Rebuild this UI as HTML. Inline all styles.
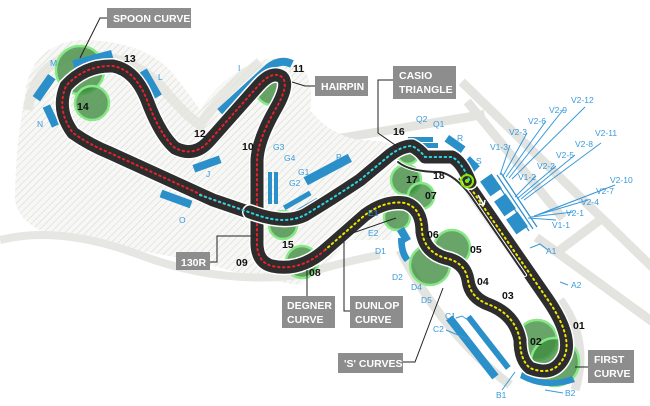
<!DOCTYPE html>
<html><head><meta charset="utf-8"><style>
html,body{margin:0;padding:0;background:#fff;width:650px;height:406px;overflow:hidden}
svg{display:block}
.lb{font-family:"Liberation Sans",sans-serif;font-weight:bold;font-size:10.5px;fill:#fff}
.n{font-family:"Liberation Sans",sans-serif;font-weight:bold;font-size:10.5px;fill:#111}
.b{font-family:"Liberation Sans",sans-serif;font-size:8.5px;fill:#3a9ad9}
.bl{stroke:#3a9ad9;stroke-width:1;fill:none}
</style></head><body>
<svg width="650" height="406" viewBox="0 0 650 406">
<defs>
<pattern id="h" width="5" height="5" patternUnits="userSpaceOnUse" patternTransform="rotate(45)">
<rect width="5" height="5" fill="#f7f7f5"/><line x1="0" y1="0" x2="0" y2="5" stroke="#d4d4d0" stroke-width="1"/></pattern>
</defs>
<!-- roads -->
<g stroke="#e3e3df" stroke-width="9" fill="none" stroke-linecap="square">
<path d="M465,85 L650,265"/><path d="M330,140 L480,115"/><path d="M540,240 L650,320"/>
<path d="M470,105 L560,215"/><path d="M560,250 L600,220"/>
</g>
<!-- hatched terrain -->
<path d="M25,95 Q30,45 80,40 Q140,40 170,70 Q190,95 200,110 Q215,85 240,70 Q270,50 300,65 Q315,80 310,110 Q330,135 360,140 Q390,140 405,150 L420,200 Q400,215 390,240 Q370,240 350,240 Q330,265 300,285 Q260,280 200,262 Q140,250 70,240 Q20,230 15,200 Q15,150 25,95 Z" fill="url(#h)"/>
<path d="M28,110 Q35,60 80,55 Q130,55 160,85 Q185,115 200,125 Q220,95 260,62" stroke="#e3e3df" stroke-width="10" fill="none" opacity=".8"/>
<path d="M0,240 Q60,225 140,255 Q220,285 300,275 Q350,260 380,255" stroke="#e6e6e2" stroke-width="8" fill="none"/>
<path d="M400,250 Q440,330 510,385" stroke="#e3e3df" stroke-width="9" fill="none"/>
<path d="M560,300 Q590,340 575,390" stroke="#e3e3df" stroke-width="9" fill="none"/>
<!-- green blobs -->
<g fill="#3f8c3f" fill-opacity=".78" stroke="#86e886" stroke-width="2.5">
<circle cx="80" cy="70" r="24"/><circle cx="92" cy="103" r="17"/><circle cx="272" cy="88" r="17"/>
<circle cx="283" cy="225" r="14"/><circle cx="302" cy="262" r="16"/><circle cx="406" cy="180" r="15"/>
<circle cx="421" cy="196" r="13"/><circle cx="397" cy="217" r="13"/><circle cx="452" cy="248" r="18"/>
<circle cx="430" cy="265" r="20"/><circle cx="408" cy="153" r="11"/><circle cx="537" cy="340" r="20"/>
<circle cx="555" cy="362" r="24"/>
</g>
<!-- stands -->
<g fill="#2b8fc9">
<rect x="40" y="74" width="9" height="27" transform="rotate(35 44 87)"/>
<rect x="73" y="55" width="40" height="9" transform="rotate(-15 93 60)"/>
<rect x="47" y="105" width="8" height="22" transform="rotate(-25 51 116)"/>
<rect x="145" y="69" width="10" height="30" transform="rotate(-30 150 84)"/>
<rect x="193" y="160" width="28" height="8" transform="rotate(-20 207 164)"/>
<rect x="160" y="195" width="32" height="8" transform="rotate(20 176 199)"/>
<rect x="303" y="165" width="50" height="9" transform="rotate(-28 328 170)"/>
<rect x="268" y="172" width="4" height="32"/><rect x="274" y="172" width="4" height="32"/>
<rect x="282" y="198" width="30" height="5" transform="rotate(-30 297 200)"/>
<rect x="290" y="205" width="30" height="5" transform="rotate(-30 305 207)"/>
<rect x="408" y="137" width="25" height="5"/><rect x="416" y="143" width="22" height="5"/>
<rect x="445" y="140" width="20" height="8" transform="rotate(35 455 144)"/>
<rect x="465" y="160" width="14" height="9" transform="rotate(45 472 164)"/>
<rect x="400" y="228" width="8" height="14" transform="rotate(-30 404 235)"/>
<path d="M398,238 Q398,255 405,262 L410,258 Q404,250 405,238 Z"/>
<rect x="482" y="178" width="18" height="14" transform="rotate(55 491 185)"/>
<rect x="496" y="198" width="18" height="14" transform="rotate(55 505 205)"/>
<rect x="508" y="216" width="18" height="14" transform="rotate(55 517 223)"/>
<rect x="528" y="250" width="6" height="55" transform="rotate(-33 531 277)"/>
<rect x="468" y="310" width="8" height="75" transform="rotate(-38 472 347)"/>
<rect x="485" y="310" width="6" height="65" transform="rotate(-38 488 342)"/>
<path d="M520,378 Q545,392 575,382 L572,376 Q545,386 522,372 Z"/>
</g>
<path d="M220,112 L268,68 Q280,58 292,64" stroke="#2b8fc9" stroke-width="8" fill="none"/>
<g stroke="#2b8fc9" stroke-width="1.2">
<path d="M493,177 l12,18 M497,175 l12,18 M501,173 l12,18 M505,195 l12,18 M509,193 l12,18 M513,191 l12,18 M517,213 l12,18 M521,211 l12,18 M525,209 l12,18"/>
</g>
<!-- track -->
<g fill="none" stroke-linejoin="round" stroke-linecap="round">
<path d="M465,180 L548,300 Q572,335 565,355 Q555,378 530,368 Q520,360 520,340 Q515,315 490,305 Q470,298 468,280 Q465,262 445,258 Q425,252 422,232 Q422,208 405,203 Q385,200 365,215 L325,250" stroke="#fff" stroke-width="16"/>
<path d="M325,250 Q300,272 272,266 Q256,262 257,240 L257,160 Q258,140 275,110 Q290,85 282,77 Q272,70 258,86 L210,140 Q195,158 175,148 Q160,135 147,100 Q135,70 113,66 Q85,65 66,86 Q56,110 73,133 Q90,145 110,153 L213,200 L257,215" stroke="#fff" stroke-width="16"/>
<path d="M465,180 L548,300 Q572,335 565,355 Q555,378 530,368 Q520,360 520,340 Q515,315 490,305 Q470,298 468,280 Q465,262 445,258 Q425,252 422,232 Q422,208 405,203 Q385,200 365,215 L325,250" stroke="#2d2d2d" stroke-width="13"/>
<path d="M325,250 Q300,272 272,266 Q256,262 257,240 L257,160 Q258,140 275,110 Q290,85 282,77 Q272,70 258,86 L210,140 Q195,158 175,148 Q160,135 147,100 Q135,70 113,66 Q85,65 66,86 Q56,110 73,133 Q90,145 110,153 L213,200 L257,215" stroke="#2d2d2d" stroke-width="13"/>
<path d="M465,180 L548,300 Q572,335 565,355 Q555,378 530,368 Q520,360 520,340 Q515,315 490,305 Q470,298 468,280 Q465,262 445,258 Q425,252 422,232 Q422,208 405,203 Q385,200 365,215 L325,250" stroke="#f2e600" stroke-width="2" stroke-dasharray="1.5 3.5"/>
<path d="M325,250 Q300,272 272,266 Q256,262 257,240 L257,160 Q258,140 275,110 Q290,85 282,77 Q272,70 258,86 L210,140 Q195,158 175,148 Q160,135 147,100 Q135,70 113,66 Q85,65 66,86 Q56,110 73,133 Q90,145 110,153 L213,200 L257,215" stroke="#e8202a" stroke-width="2" stroke-dasharray="1.5 3.5"/>
<path d="M398,162 Q410,172 440,172 Q455,175 470,195 L525,275" stroke="#fff" stroke-width="4"/>
<path d="M398,162 Q410,172 440,172 Q455,175 470,195 L525,275" stroke="#2d2d2d" stroke-width="2"/>
<path d="M250,212 Q285,225 305,215 Q330,200 360,180 L390,155 Q402,146 412,146 Q420,150 425,157 L452,157 Q462,162 470,182" stroke="#fff" stroke-width="16"/>
<path d="M250,212 Q285,225 305,215 Q330,200 360,180 L390,155 Q402,146 412,146 Q420,150 425,157 L452,157 Q462,162 470,182" stroke="#2d2d2d" stroke-width="13"/>
<path d="M200,195 L257,215 Q285,225 305,215 Q330,200 360,180 L390,155 Q402,146 412,146 Q420,150 425,157 L452,157 Q462,162 470,182" stroke="#29d6e6" stroke-width="2" stroke-dasharray="1.5 3.5"/>
</g>
<path d="M478,195 l6,10 M484,205 l-5,-1 M484,205 l1,-5" stroke="#fff" stroke-width="1.5" fill="none"/>
<circle cx="467" cy="181" r="6" fill="none" stroke="#8be800" stroke-width="2"/><circle cx="467" cy="181" r="2" fill="#8be800"/>
<!-- leader lines -->
<g stroke="#222" stroke-width="1" fill="none">
<path d="M107,18 L100,18 L80,58"/><path d="M315,86 L305,86 L292,82"/>
<path d="M393,80 L378,80 L378,133 L398,147"/><path d="M210,262 L217,262 L217,236 L256,236"/>
<path d="M307,296 L307,270"/><path d="M350,311 L344,311 L344,236 L396,218"/>
<path d="M403,362 L415,362 L443,288"/><path d="M588,367 L575,367"/>
</g>
<g fill="#8d8d8d">
<rect x="107" y="8" width="84" height="20"/><rect x="315" y="76" width="53" height="20"/>
<rect x="393" y="66" width="63" height="33"/><rect x="176" y="252" width="34" height="18"/>
<rect x="282" y="296" width="53" height="32"/><rect x="350" y="296" width="53" height="32"/>
<rect x="338" y="353" width="65" height="20"/><rect x="588" y="350" width="46" height="33"/>
</g>
<text class="lb" x="113" y="22">SPOON CURVE</text><text class="lb" x="321" y="90">HAIRPIN</text>
<text class="lb" x="399" y="79">CASIO</text><text class="lb" x="399" y="93">TRIANGLE</text>
<text class="lb" x="181" y="266">130R</text>
<text class="lb" x="287" y="309">DEGNER</text><text class="lb" x="287" y="323">CURVE</text>
<text class="lb" x="355" y="309">DUNLOP</text><text class="lb" x="355" y="323">CURVE</text>
<text class="lb" x="344" y="367">'S' CURVES</text>
<text class="lb" x="594" y="363">FIRST</text><text class="lb" x="594" y="377">CURVE</text>
<g>
<text x="124" y="62" class="n">13</text><text x="77" y="110" class="n">14</text><text x="293" y="72" class="n">11</text>
<text x="194" y="137" class="n">12</text><text x="242" y="150" class="n">10</text><text x="282" y="248" class="n">15</text>
<text x="236" y="266" class="n">09</text><text x="309" y="276" class="n">08</text><text x="393" y="135" class="n">16</text>
<text x="406" y="183" class="n">17</text><text x="433" y="179" class="n">18</text><text x="425" y="199" class="n">07</text>
<text x="427" y="238" class="n">06</text><text x="470" y="253" class="n">05</text><text x="477" y="285" class="n">04</text>
<text x="502" y="299" class="n">03</text><text x="530" y="345" class="n">02</text><text x="573" y="329" class="n">01</text>
</g>
<g class="b">
<text x="50" y="66">M</text><text x="37" y="127">N</text><text x="158" y="80">L</text><text x="238" y="71">I</text>
<text x="206" y="177">J</text><text x="179" y="223">O</text><text x="336" y="160">P</text>
<text x="273" y="150">G3</text><text x="284" y="161">G4</text><text x="298" y="175">G1</text><text x="289" y="186">G2</text>
<text x="416" y="122">Q2</text><text x="433" y="127">Q1</text><text x="457" y="141">R</text><text x="476" y="164">S</text>
<text x="368" y="216">E1</text><text x="368" y="236">E2</text><text x="375" y="254">D1</text><text x="392" y="280">D2</text>
<text x="411" y="290">D4</text><text x="421" y="303">D5</text><text x="445" y="319">C1</text><text x="433" y="332">C2</text>
<text x="496" y="398">B1</text><text x="565" y="396">B2</text><text x="546" y="254">A1</text><text x="571" y="288">A2</text>
<text x="490" y="150">V1-3</text><text x="509" y="135">V2-3</text><text x="528" y="124">V2-6</text>
<text x="549" y="113">V2-9</text><text x="571" y="103">V2-12</text><text x="518" y="180">V1-2</text>
<text x="537" y="169">V2-2</text><text x="556" y="158">V2-5</text><text x="575" y="147">V2-8</text>
<text x="595" y="136">V2-11</text><text x="552" y="228">V1-1</text><text x="566" y="216">V2-1</text>
<text x="581" y="205">V2-4</text><text x="596" y="194">V2-7</text><text x="610" y="183">V2-10</text>
</g>
<g class="bl">
<path d="M500,175 L510,145 M503,176 L527,133 M506,177 L546,121 M509,178 L563,110 M512,179 L585,107"/>
<path d="M515,197 L536,176 M518,198 L556,166 M521,199 L575,155 M524,200 L601,143"/>
<path d="M528,218 L556,220 M531,217 L573,212 M534,216 L588,200 M537,215 L602,190 M540,214 L615,185"/>
<path d="M548,250 L540,244 L530,248 M568,285 L560,282"/>
<path d="M456,318 L462,316 L468,320 M446,330 L470,340 M502,390 L515,372 M563,393 L545,390"/>
</g>
</svg>
</body></html>
